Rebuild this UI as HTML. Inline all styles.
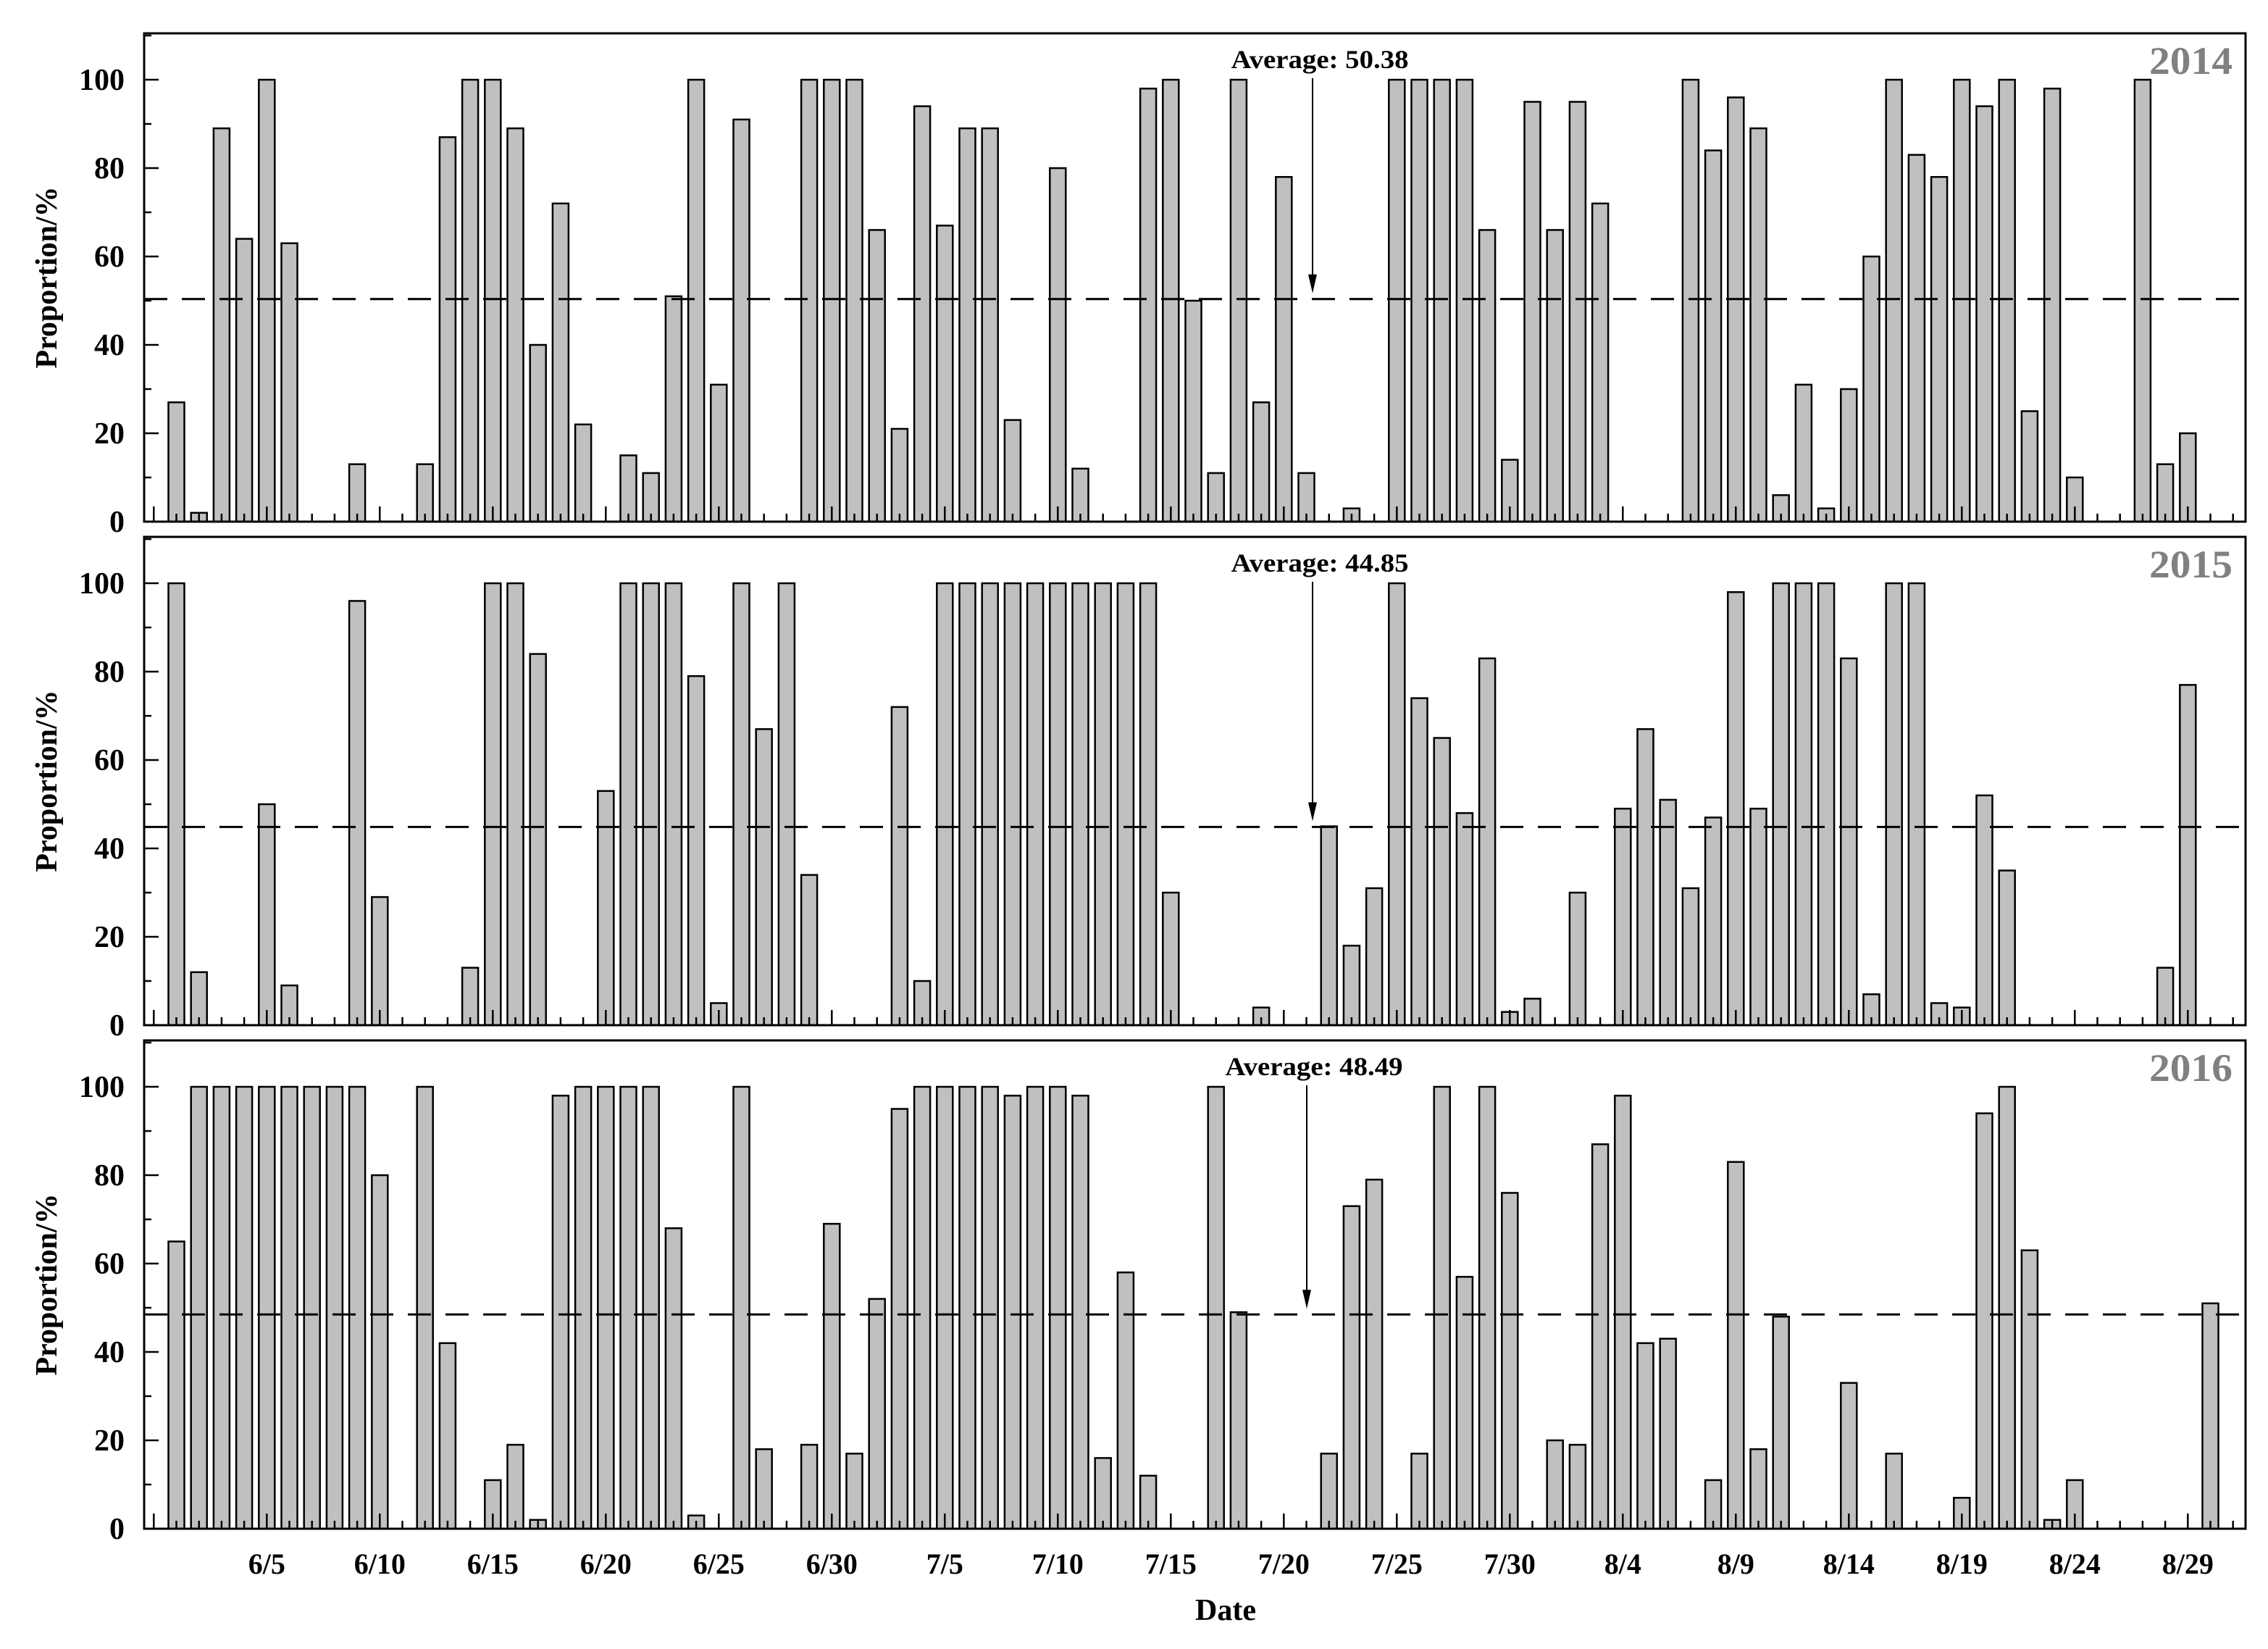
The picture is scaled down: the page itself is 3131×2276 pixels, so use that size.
<!DOCTYPE html>
<html><head><meta charset="utf-8"><style>
html,body{margin:0;padding:0;background:#fff}
svg{display:block}
text{font-family:"Liberation Serif",serif;font-weight:bold}
</style></head><body>
<svg id="chart" width="3131" height="2276" viewBox="0 0 3131 2276" xmlns="http://www.w3.org/2000/svg"></svg>
<script>
const years = ["2014","2015","2016"];
const averages = [50.38, 44.85, 48.49];
const values2014 = [27,2,89,64,100,63,null,null,13,null,null,13,87,100,100,89,40,72,22,null,15,11,51,100,31,91,null,null,100,100,100,66,21,94,67,89,89,23,null,80,12,null,null,98,100,50,11,100,27,78,11,null,3,null,100,100,100,100,66,14,95,66,95,72,null,null,null,100,84,96,89,6,31,3,30,60,100,83,78,100,94,100,25,98,10,null,null,100,13,20,null,null];
const values2015 = [100,12,null,null,50,9,null,null,96,29,null,null,null,13,100,100,84,null,null,53,100,100,100,79,5,100,67,100,34,null,null,null,72,10,100,100,100,100,100,100,100,100,100,100,30,null,null,null,4,null,null,45,18,31,100,74,65,48,83,3,6,null,30,null,49,67,51,31,47,98,49,100,100,100,83,7,100,100,5,4,52,35,null,null,null,null,null,null,13,77,null,null];
const values2016 = [65,100,100,100,100,100,100,100,100,80,null,100,42,null,11,19,2,98,100,100,100,100,68,3,null,100,18,null,19,69,17,52,95,100,100,100,100,98,100,100,98,16,58,12,null,null,100,49,null,null,null,17,73,79,null,17,100,57,100,76,null,20,19,87,98,42,43,null,11,83,18,48,null,null,33,null,17,null,null,7,94,100,63,2,11,null,null,null,null,null,51,null];
const series = [values2014, values2015, values2016];
const xTickLabels = ["6/5","6/10","6/15","6/20","6/25","6/30","7/5","7/10","7/15","7/20","7/25","7/30","8/4","8/9","8/14","8/19","8/24","8/29"];
const yTicks = [0,20,40,60,80,100];

const svg = document.getElementById('chart');
const NS = "http://www.w3.org/2000/svg";
function mk(tag, attrs, parent){const e=document.createElementNS(NS,tag);for(const k in attrs)e.setAttribute(k,attrs[k]);(parent||svg).appendChild(e);return e;}

const L=199, R=3100, H=674, YMAX=110.5;
const tops=[46,741,1436];
const x = d => 243.5 + (d-1)*31.2; // d = day index (1 = 6/1)
const nDays = 92;

tops.forEach((top,pi)=>{
  const bot = top+H;
  const y = v => bot - v/YMAX*H;
  const g = mk('g',{});
  
  
  // bars
  series[pi].forEach((v,i)=>{
    if(v===null) return;
    const r = mk('rect',{x:x(i+1)-11,y:y(v),width:22,height:bot-y(v),fill:'#c0c0c0',stroke:'#000','stroke-width':2.5},g);
    
    
  });
  // average line
  const av = mk('line',{x1:L,x2:R,y1:y(averages[pi]),y2:y(averages[pi]),stroke:'#000','stroke-width':3,'stroke-dasharray':'32 20'},g);
  
  
  // x ticks
  for(let d=0; d<=nDays; d++){
    const len = d%5===0?21:11;
    mk('line',{x1:x(d),x2:x(d),y1:bot,y2:bot-len,stroke:'#000','stroke-width':2.5},g);
  }
  // y ticks
  for(let v=0; v<=110; v+=10){
    const len = v%20===0?20:10;
    mk('line',{x1:L,x2:L+len,y1:y(v),y2:y(v),stroke:'#000','stroke-width':2.5},g);
  }
  yTicks.forEach(v=>{
    const t = mk('text',{x:172,y:y(v)+14,'font-size':42,'text-anchor':'end'},g);
    t.textContent=v;
    
    
  });
  // frame
  const fr = mk('rect',{x:L,y:top,width:R-L,height:H,fill:'none',stroke:'#000','stroke-width':3},g);
  
  
  // y axis title
  const yt = mk('text',{x:0,y:0,'font-size':42,'text-anchor':'middle',transform:`translate(78,${top+H/2}) rotate(-90)`},g);
  yt.textContent='Proportion/%';
  
  
  // year label
  const yl = mk('text',{x:3082,y:top+56,'font-size':54,'text-anchor':'end',fill:'#808080',textLength:115,lengthAdjust:'spacingAndGlyphs'},g);
  yl.textContent=years[pi];
  
  
  // average annotation
  const ax = 1812 - (pi===2?8:0);
  const at = mk('text',{x:ax+10,y:top+48,'font-size':36,'text-anchor':'middle',textLength:245,lengthAdjust:'spacingAndGlyphs'},g);
  at.textContent='Average: '+averages[pi].toFixed(2);
  
  
  const ay = y(averages[pi]) - 8;
  const al = mk('line',{x1:ax,x2:ax,y1:top+62,y2:ay-24,stroke:'#000','stroke-width':2},g);
  
  
  mk('polygon',{points:`${ax-6},${ay-26} ${ax+6},${ay-26} ${ax},${ay}`,fill:'#000'},g);
});

// x tick labels
const lastBot = tops[2]+H;
xTickLabels.forEach((lab,i)=>{
  const t = mk('text',{x:x(5*(i+1)),y:lastBot+62,'font-size':40,'text-anchor':'middle'});
  t.textContent=lab;
  
  
});
const xt = mk('text',{x:1692,y:2236,'font-size':42,'text-anchor':'middle'});
xt.textContent='Date';


</script>
</body></html>
